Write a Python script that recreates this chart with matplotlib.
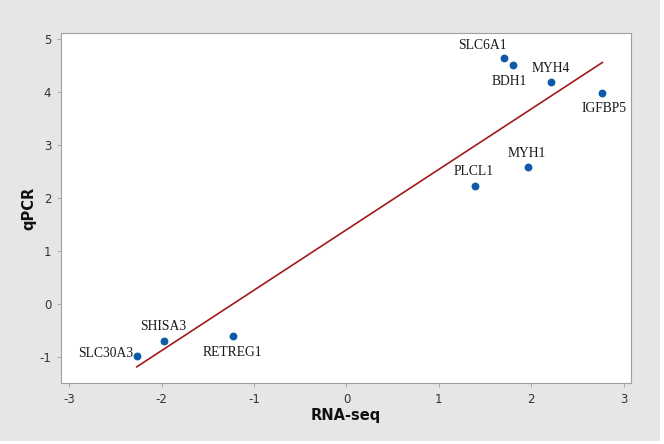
import matplotlib.pyplot as plt
import numpy as np

plt.rcParams['axes.unicode_minus'] = False

genes = ['SLC6A1', 'BDH1', 'MYH4', 'IGFBP5', 'MYH1', 'PLCL1', 'SHISA3', 'RETREG1', 'SLC30A3']
rna_seq = [1.70, 1.80, 2.21, 2.77, 1.96, 1.39, -1.97, -1.23, -2.27]
qpcr = [4.64, 4.50, 4.19, 3.97, 2.59, 2.23, -0.69, -0.60, -0.99]
# label offsets in pixels (dx, dy), dy positive = up
label_offsets = [(-21, 12), (-3, -16), (0, 13), (2, -15), (-1, 13), (-1, 14), (-1, 14), (0, -17), (-31, 3)]

fig = plt.figure(figsize=(6.64, 4.44), dpi=100, facecolor='white')
# grey panel, with a thin light strip at right and bottom edges
fig.patches.append(plt.Rectangle((0, 3 / 444), 660 / 664, 1, transform=fig.transFigure,
                                 facecolor='#e6e6e6', edgecolor='none', zorder=-10))
ax = fig.add_axes([0.0919, 0.1374, 0.8584, 0.7883])

# least squares fit line over the data range
slope, icept = np.polyfit(rna_seq, qpcr, 1)
xs = np.array([min(rna_seq), max(rna_seq)])
ax.plot(xs, slope * xs + icept, color='#a3191c', lw=1.2, zorder=2)

ax.scatter(rna_seq, qpcr, s=32, color='#0c5aa8', zorder=3, linewidths=0)

for g, x, y, (dx, dy) in zip(genes, rna_seq, qpcr, label_offsets):
    ax.annotate(g, (x, y), xytext=(dx, dy), textcoords='offset pixels',
                ha='center', va='center', family='Liberation Serif',
                fontsize=9.8, color='#1a1a1a')

ax.set_xlim(-3.09, 3.08)
ax.set_ylim(-1.49, 5.11)
ax.set_xticks([-3, -2, -1, 0, 1, 2, 3])
ax.set_yticks([-1, 0, 1, 2, 3, 4, 5])
for s in ax.spines.values():
    s.set_color('#a0a0a0')
    s.set_linewidth(0.8)
ax.tick_params(length=3, width=0.6, color='#a0a0a0', labelcolor='#333333',
               labelsize=8.5, pad=4)
ax.set_xlabel('RNA-seq', fontweight='bold', fontsize=10.5, labelpad=2, color='#111111')
ax.set_ylabel('qPCR', fontweight='bold', fontsize=10.5, labelpad=2, color='#111111')

fig.savefig('out.png', dpi=100, facecolor=fig.get_facecolor())
